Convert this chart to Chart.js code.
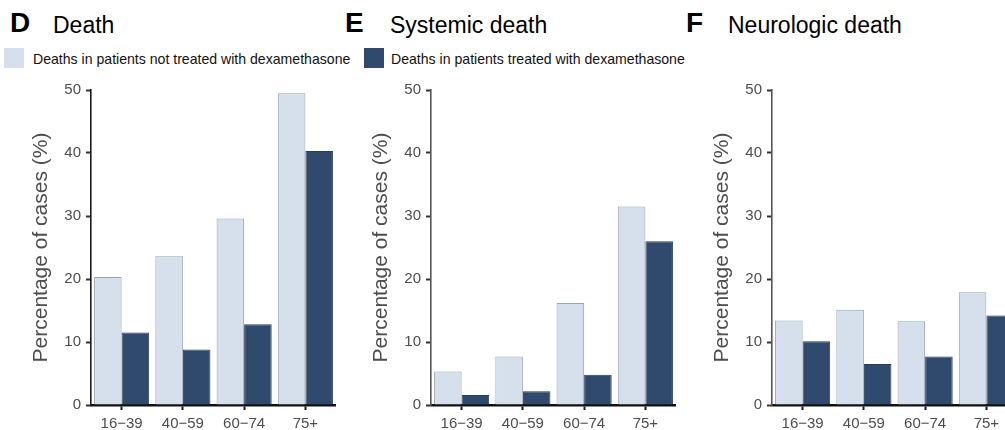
<!DOCTYPE html>
<html>
<head>
<meta charset="utf-8">
<script src="https://cdn.jsdelivr.net/npm/chart.js@4.4.1/dist/chart.umd.min.js"></script>
<style>
html, body { margin:0; padding:0; width:1005px; height:430px; overflow:hidden; background:#fff; }
body { position:relative; font-family:"Liberation Sans", Arial, Helvetica, sans-serif; color:#000; }
.panel { position:absolute; top:75px; }
.letter { position:absolute; font-weight:bold; font-size:28px; line-height:28px; top:9px; white-space:nowrap; }
.ptitle { position:absolute; font-size:23px; line-height:23px; top:14px; white-space:nowrap; }
.lgbox { position:absolute; top:48px; width:20px; height:20px; }
.lgtext { position:absolute; top:52px; font-size:14.1px; line-height:14px; white-space:nowrap; color:#111; }
</style>
</head>
<body>
<div class="letter" style="left:10px">D</div><div class="ptitle" style="left:53px">Death</div>
<div class="letter" style="left:345px">E</div><div class="ptitle" style="left:390px">Systemic death</div>
<div class="letter" style="left:686px">F</div><div class="ptitle" style="left:728px">Neurologic death</div>

<div class="lgbox" style="left:4px;background:#d6dfec"></div>
<div class="lgtext" style="left:33px">Deaths in patients not treated with dexamethasone</div>
<div class="lgbox" style="left:364px;background:#2f4a6d"></div>
<div class="lgtext" style="left:391px">Deaths in patients treated with dexamethasone</div>

<canvas id="cD" class="panel" width="336" height="355" style="left:0px"></canvas>
<canvas id="cE" class="panel" width="336" height="355" style="left:340px"></canvas>
<canvas id="cF" class="panel" width="336" height="355" style="left:681px"></canvas>

<script>
// ---- data ----
const categories = ['16\u221239', '40\u221259', '60\u221274', '75+'];
const seriesNames = ['Deaths in patients not treated with dexamethasone', 'Deaths in patients treated with dexamethasone'];
const yTicks = [0, 10, 20, 30, 40, 50];

const deathNoDex = [20.3, 23.6, 29.6, 49.5];
const deathDex = [11.5, 8.8, 12.8, 40.3];
const systemicNoDex = [5.3, 7.7, 16.2, 31.5];
const systemicDex = [1.6, 2.2, 4.8, 26.0];
const neuroNoDex = [13.4, 15.1, 13.3, 17.9];
const neuroDex = [10.1, 6.5, 7.7, 14.2];

// ---- chart ----
Chart.defaults.font.family = '"Liberation Sans", Arial, Helvetica, sans-serif';

function makeChart(id, noDex, dex, yAxisColor) {
  return new Chart(document.getElementById(id), {
    type: 'bar',
    data: {
      labels: categories,
      datasets: [
        { label: seriesNames[0], data: noDex, backgroundColor: '#d6dfec', borderColor: '#9aa3b0',
          borderWidth: 1, borderSkipped: 'bottom', categoryPercentage: 0.9, barPercentage: 1.0 },
        { label: seriesNames[1], data: dex, backgroundColor: '#2f4a6d', borderColor: '#263d5c',
          borderWidth: 1, borderSkipped: 'bottom', categoryPercentage: 0.9, barPercentage: 1.0 }
      ]
    },
    options: {
      responsive: false,
      animation: false,
      devicePixelRatio: 1,
      layout: { padding: { top: 15, right: 0, bottom: 0, left: 0 } },
      plugins: { legend: { display: false }, tooltip: { enabled: false }, title: { display: false } },
      scales: {
        x: {
          offset: true,
          z: 1,
          grid: { display: true, drawOnChartArea: false, drawTicks: true, tickLength: 5, tickWidth: 2,
                  tickColor: '#1a1a1a', offset: false },
          border: { display: true, color: '#111', width: 2.5 },
          ticks: { color: '#4d4d4d', font: { size: 15 }, padding: 5, maxRotation: 0, autoSkip: false },
          afterFit(s) { s.height = 25; }
        },
        y: {
          min: 0, max: 50,
          afterBuildTicks(s) { s.ticks = yTicks.map(v => ({ value: v })); },
          grid: { display: true, drawOnChartArea: false, drawTicks: true, tickLength: 5, tickWidth: 2,
                  tickColor: '#333' },
          border: { display: true, color: yAxisColor, width: 1.6 },
          ticks: { color: '#4d4d4d', font: { size: 15 }, padding: 5 },
          title: { display: true, text: 'Percentage of cases (%)', color: '#4d4d4d',
                   font: { size: 21 }, padding: { top: 29, bottom: 0 } },
          afterFit(s) { s.width = 91; }
        }
      }
    }
  });
}

makeChart('cD', deathNoDex, deathDex, '#1a1a1a');
makeChart('cE', systemicNoDex, systemicDex, '#555555');
makeChart('cF', neuroNoDex, neuroDex, '#555555');
</script>
</body>
</html>
